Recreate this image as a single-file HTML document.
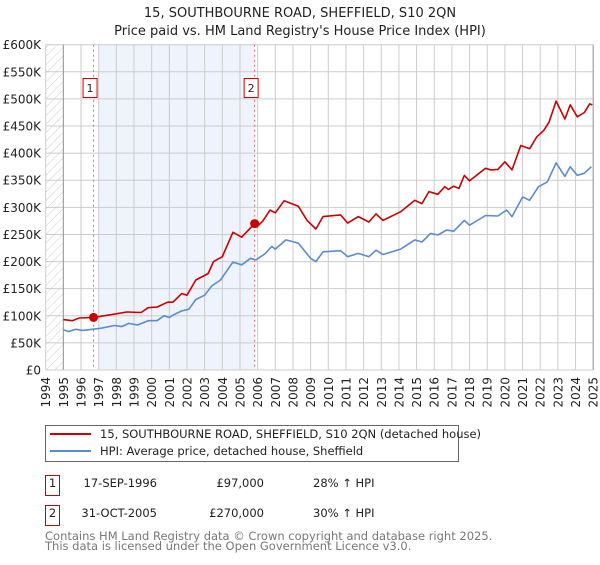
<!DOCTYPE html>
<html><head><meta charset="utf-8"><style>
body{margin:0;background:#fff;font-family:"Liberation Sans","DejaVu Sans",sans-serif;}
svg text{font-family:"DejaVu Sans","Liberation Sans",sans-serif;}
</style></head><body>
<svg id="c" width="600" height="560" viewBox="0 0 600 560" xmlns="http://www.w3.org/2000/svg">
<defs><pattern id="hatch" width="6" height="6" patternUnits="userSpaceOnUse" patternTransform="rotate(45)"><line x1="0" y1="0" x2="0" y2="6" stroke="#ccc" stroke-width="1"/></pattern></defs>
<text x="300" y="17" text-anchor="middle" font-size="13" fill="#222">15, SOUTHBOURNE ROAD, SHEFFIELD, S10 2QN</text>
<text x="300" y="35" text-anchor="middle" font-size="13" fill="#222">Price paid vs. HM Land Registry's House Price Index (HPI)</text>
<g id="plot"></g>
<g>
<rect x="45.5" y="425.5" width="413" height="36" fill="#fff" stroke="#666"/>
<line x1="50" y1="434" x2="91" y2="434" stroke="#cc0000" stroke-width="2"/>
<text x="100" y="438" font-size="11.5" fill="#222">15, SOUTHBOURNE ROAD, SHEFFIELD, S10 2QN (detached house)</text>
<line x1="50" y1="451" x2="91" y2="451" stroke="#5b8bd0" stroke-width="2"/>
<text x="100" y="455" font-size="11.5" fill="#222">HPI: Average price, detached house, Sheffield</text>
</g>
<g font-size="11.5" fill="#222">
<rect x="45.5" y="475.5" width="14" height="20" fill="#fff" stroke="#cc0000"/>
<text x="52.5" y="487" text-anchor="middle">1</text>
<text x="157" y="487" text-anchor="end">17-SEP-1996</text>
<text x="264" y="487" text-anchor="end">£97,000</text>
<text x="313" y="487">28% ↑ HPI</text>
<rect x="45.5" y="505.5" width="14" height="20" fill="#fff" stroke="#cc0000"/>
<text x="52.5" y="517" text-anchor="middle">2</text>
<text x="157" y="517" text-anchor="end">31-OCT-2005</text>
<text x="264" y="517" text-anchor="end">£270,000</text>
<text x="313" y="517">30% ↑ HPI</text>
</g>
<text x="45" y="540" font-size="11.5" fill="#777">Contains HM Land Registry data © Crown copyright and database right 2025.</text>
<text x="45" y="550" font-size="11.5" fill="#777">This data is licensed under the Open Government Licence v3.0.</text>
</svg>
<script>
const yTicks=[0,50,100,150,200,250,300,350,400,450,500,550,600];
const yTickLabels=["£0","£50K","£100K","£150K","£200K","£250K","£300K","£350K","£400K","£450K","£500K","£550K","£600K"];
const xYears=[1994,1995,1996,1997,1998,1999,2000,2001,2002,2003,2004,2005,2006,2007,2008,2009,2010,2011,2012,2013,2014,2015,2016,2017,2018,2019,2020,2021,2022,2023,2024,2025];
const redYears=[1995.0,1995.5,1995.9,1996.71,1997.7,1998.6,1999.4,1999.8,2000.3,2000.9,2001.2,2001.7,2002.0,2002.5,2003.2,2003.5,2004.0,2004.6,2005.1,2005.83,2005.95,2006.3,2006.7,2007.0,2007.5,2008.3,2008.8,2009.3,2009.7,2010.7,2011.1,2011.7,2012.3,2012.7,2013.1,2014.1,2014.9,2015.3,2015.7,2016.2,2016.6,2016.8,2017.1,2017.4,2017.7,2018.0,2018.9,2019.2,2019.6,2020.0,2020.4,2020.9,2021.4,2021.8,2022.2,2022.5,2022.9,2023.4,2023.7,2024.1,2024.5,2024.8,2024.95];
const redValues=[93,91,96,97,102,107,106,115,116,125,125,141,138,166,178,200,209,254,245,270,264,275,295,290,312,302,276,260,283,286,271,283,273,288,276,292,313,307,329,324,338,333,339,335,359,349,372,369,370,384,369,414,408,430,442,457,496,463,489,467,475,491,489];
const hpiYears=[1995.0,1995.3,1995.7,1996.1,1997.1,1997.9,1998.3,1998.7,1999.2,1999.8,2000.3,2000.7,2001.0,2001.2,2001.7,2002.1,2002.5,2003.0,2003.4,2003.9,2004.6,2005.1,2005.6,2005.9,2006.4,2006.8,2007.0,2007.6,2008.3,2009.0,2009.3,2009.7,2010.7,2011.1,2011.7,2012.3,2012.7,2013.1,2014.1,2014.9,2015.3,2015.8,2016.2,2016.7,2017.1,2017.7,2018.0,2018.9,2019.6,2020.1,2020.4,2021.0,2021.4,2021.9,2022.4,2022.9,2023.4,2023.7,2024.1,2024.5,2024.9];
const hpiValues=[74,71,75,73,77,82,80,86,83,91,91,100,97,101,109,112,130,138,155,166,199,194,206,203,214,228,223,240,234,206,200,218,220,209,215,209,221,213,223,240,236,252,249,258,256,276,267,285,284,295,283,319,313,338,347,382,357,375,359,363,375];
const sales=[{label:"1",year:1996.71,value:97},{label:"2",year:2005.83,value:270}];

const NS="http://www.w3.org/2000/svg";
const X0=45.7,X1=593.2,Y0=370,Y1=44.7;
function xs(y){return X0+(y-1994)/(2025-1994)*(X1-X0);}
function ys(v){return Y0-v/600*(Y0-Y1);}
const g=document.getElementById('plot');
function mk(t,a,p){const e=document.createElementNS(NS,t);for(const k in a)e.setAttribute(k,a[k]);(p||g).appendChild(e);return e;}

let e=mk('rect',{x:X0,y:Y1,width:xs(1995)-X0,height:Y0-Y1,fill:'url(#hatch)'});


e=mk('rect',{x:xs(1997),y:Y1,width:xs(2005.83)-xs(1997),height:Y0-Y1,fill:'#eef3fc'});



xYears.forEach(yr=>{
 const l=mk('line',{x1:xs(yr),x2:xs(yr),y1:Y1,y2:Y0,stroke:'#ccc','stroke-width':1});
 
 
 const t=mk('text',{transform:`translate(${xs(yr)+4.5},377) rotate(-90)`,'text-anchor':'end','font-size':'12',fill:'#222'});
 t.textContent=yr;
 
 
});
yTicks.forEach((v,i)=>{
 const l=mk('line',{x1:X0,x2:X1,y1:ys(v),y2:ys(v),stroke:'#ccc','stroke-width':1});
 
 
 const t=mk('text',{x:41,y:ys(v)+4.5,'text-anchor':'end','font-size':'12',fill:'#222'});
 t.textContent=yTickLabels[i];
 
 
});
e=mk('line',{x1:xs(1995),x2:xs(1995),y1:Y1,y2:Y0,stroke:'#999'});


e=mk('line',{x1:X1,x2:X1,y1:Y1,y2:Y0,stroke:'#999'});



sales.forEach(s=>{
 const l=mk('line',{x1:xs(s.year),x2:xs(s.year),y1:Y1,y2:Y0,stroke:'#e66','stroke-width':1,'stroke-dasharray':'2,3'});
 
 
 const r=mk('rect',{x:xs(s.year)-10.5,y:78.5,width:14,height:19,fill:'#fff',stroke:'#cc0000'});
 
 
 const t=mk('text',{x:xs(s.year)-3.5,y:92,'text-anchor':'middle','font-size':'11',fill:'#222'});
 t.textContent=s.label;
 
 
});

function path(xsA,vs){return xsA.map((x,i)=>(i?'L':'M')+xs(x).toFixed(1)+','+ys(vs[i]).toFixed(1)).join('');}
e=mk('path',{d:path(hpiYears,hpiValues),fill:'none',stroke:'#5b8bd0','stroke-width':1.6,'stroke-linejoin':'round'});


e=mk('path',{d:path(redYears,redValues),fill:'none',stroke:'#cc0000','stroke-width':1.6,'stroke-linejoin':'round'});


sales.forEach(s=>{
 const c=mk('circle',{cx:xs(s.year),cy:ys(s.value),r:4.5,fill:'#cc0000'});
 
 
});
</script>
</body></html>
